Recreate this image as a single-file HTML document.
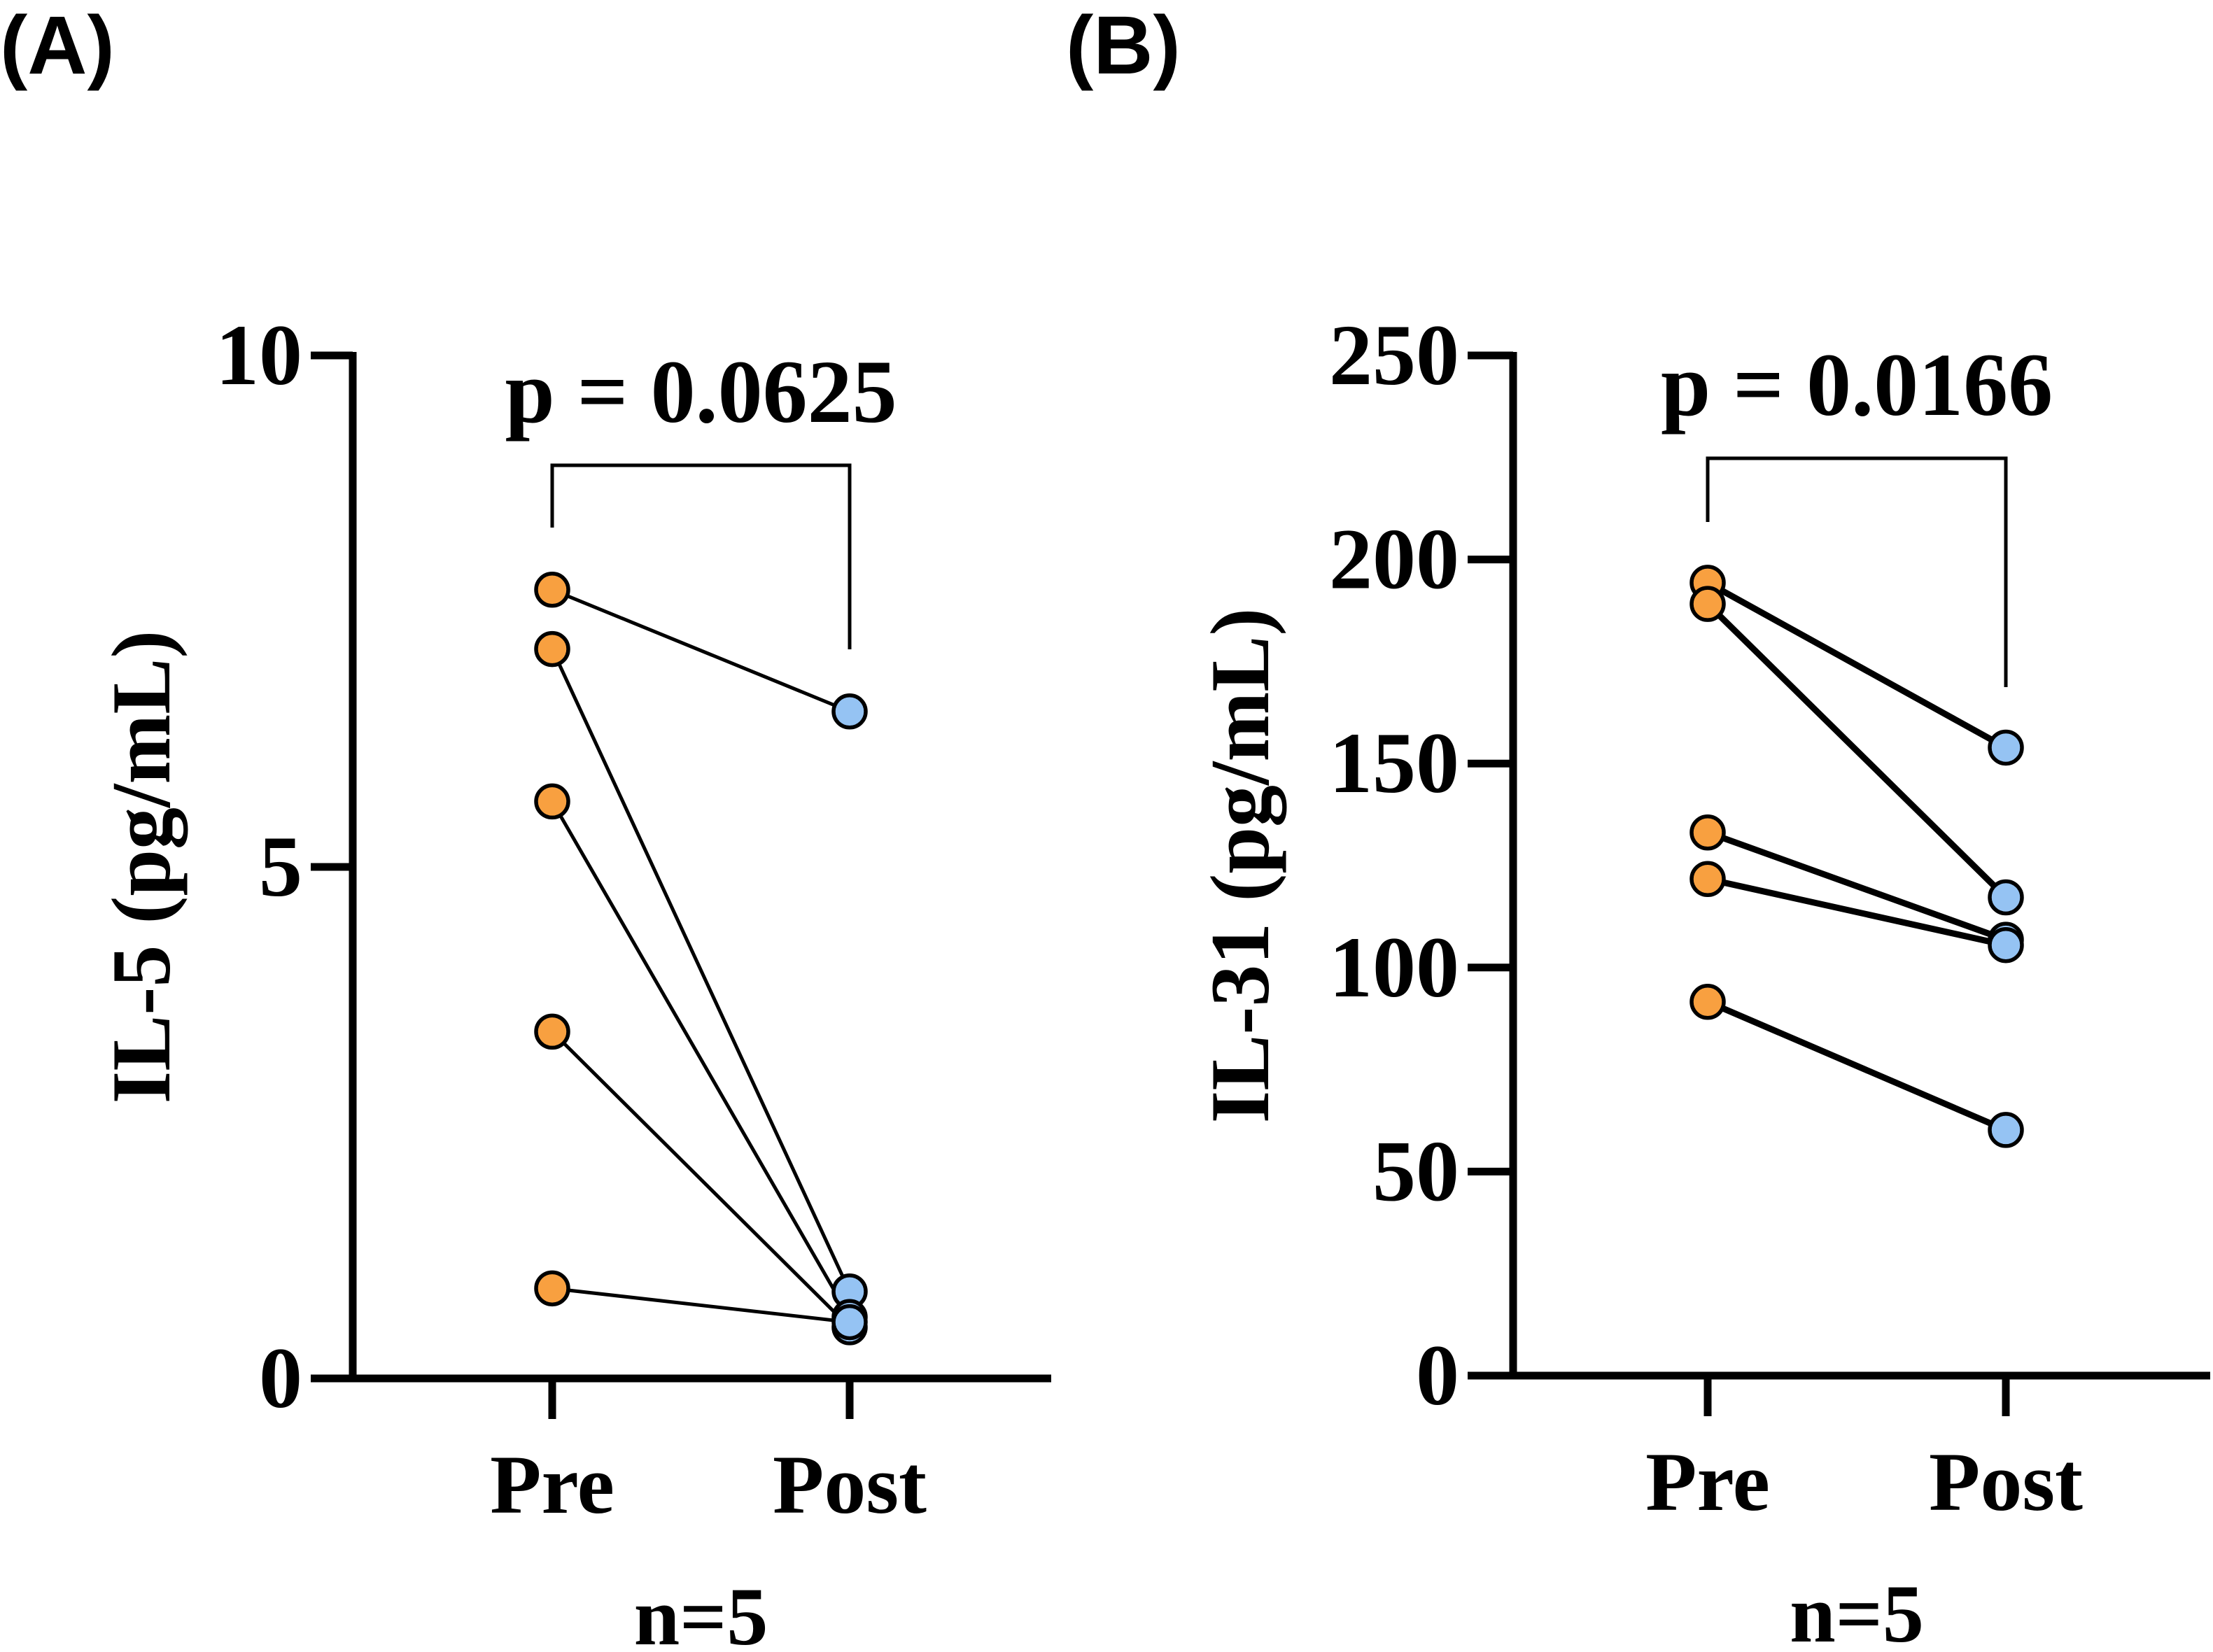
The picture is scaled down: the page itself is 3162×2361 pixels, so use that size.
<!DOCTYPE html>
<html><head><meta charset="utf-8"><style>
html,body{margin:0;padding:0;background:#fff}
svg{display:block}
.t{font-family:"Liberation Serif",serif;font-weight:bold;fill:#000}
</style></head><body>
<svg id="chart" width="3162" height="2361" viewBox="0 0 3162 2361" xmlns="http://www.w3.org/2000/svg">
<text x="0" y="105" font-family="Liberation Sans, sans-serif" font-weight="bold" font-size="118">(A)</text>
<text x="1523" y="105" font-family="Liberation Sans, sans-serif" font-weight="bold" font-size="118">(B)</text>
<g id="pA"></g>
<g id="pB"></g>
</svg>
<script>
const categories = ["Pre", "Post"];
const il5Pre = [7.71, 7.13, 5.64, 3.39, 0.88];
const il5Post = [6.52, 0.85, 0.60, 0.50, 0.55];
const il5Ticks = [0, 5, 10];
const il31Pre = [194.3, 189.1, 133.1, 121.7, 91.6];
const il31Post = [153.9, 117.2, 106.8, 105.5, 60.2];
const il31Ticks = [0, 50, 100, 150, 200, 250];
const pA = "p = 0.0625";
const pB = "p = 0.0166";

const NS = "http://www.w3.org/2000/svg";
function mk(parent, tag, attrs, text){
  const e = document.createElementNS(NS, tag);
  for (const k in attrs) e.setAttribute(k, attrs[k]);
  if (text !== undefined) e.textContent = text;
  parent.appendChild(e);
  return e;
}
function panel(g, cfg){
  const y = v => cfg.y0 - (v - cfg.min) / (cfg.max - cfg.min) * (cfg.y0 - cfg.y1);
  const x = i => cfg.xs[i];
  let e = mk(g, "line", {x1:cfg.ax, y1:cfg.y1-5, x2:cfg.ax, y2:cfg.y0+5, stroke:"#000","stroke-width":11});
  
  
  e = mk(g, "line", {x1:cfg.tickL, y1:cfg.y0, x2:cfg.xEnd, y2:cfg.y0, stroke:"#000","stroke-width":11});
  
  
  cfg.ticks.forEach(t => {
    const l = mk(g, "line", {x1:cfg.tickL, y1:y(t), x2:cfg.ax, y2:y(t), stroke:"#000","stroke-width":11});
    
    
    const tx = mk(g, "text", {x:cfg.tickL-12, y:y(t)+41, "text-anchor":"end", class:"t", "font-size":124}, t);
    
    
  });
  categories.forEach((c, i) => {
    const l = mk(g, "line", {x1:x(i), y1:cfg.y0, x2:x(i), y2:cfg.y0+58, stroke:"#000","stroke-width":11});
    
    
    const tx = mk(g, "text", {x:x(i), y:cfg.y0+192, "text-anchor":"middle", class:"t", "font-size":120}, c);
    
    
  });
  e = mk(g, "text", {x:(x(0)+x(1))/2, y:cfg.y0+380, "text-anchor":"middle", class:"t", "font-size":118}, "n=5");
  
  
  e = mk(g, "text", {x:0, y:0, "text-anchor":"middle", class:"t", "font-size":120, transform:`translate(${cfg.titleX},${(cfg.y0+cfg.y1)/2}) rotate(-90)`}, cfg.title);
  
  
  e = mk(g, "polyline", {points:`${x(0)},${cfg.bL} ${x(0)},${cfg.bT} ${x(1)},${cfg.bT} ${x(1)},${cfg.bR}`, fill:"none", stroke:"#000","stroke-width":5});
  
  
  e = mk(g, "text", {x:(x(0)+x(1))/2, y:cfg.bT-62, "text-anchor":"middle", class:"t", "font-size":128}, cfg.p);
  
  
  cfg.pre.forEach((v, i) => {
    const l = mk(g, "line", {x1:x(0), y1:y(v), x2:x(1), y2:y(cfg.post[i]), stroke:"#000","stroke-width":cfg.lw});
    
    
  });
  cfg.pre.forEach(v => {
    const c = mk(g, "circle", {cx:x(0), cy:y(v), r:23, fill:"#F8A040", stroke:"#000","stroke-width":5.5});
    
    
  });
  cfg.post.forEach(v => {
    const c = mk(g, "circle", {cx:x(1), cy:y(v), r:23, fill:"#95C3F3", stroke:"#000","stroke-width":5.5});
    
    
  });
}
panel(document.getElementById("pA"), {min:0,max:10,y0:1970,y1:508,ax:504,tickL:444,xEnd:1502,xs:[789,1214],
  ticks:il5Ticks,pre:il5Pre,post:il5Post,p:pA,title:"IL-5 (pg/mL)",titleX:242,bT:665,bL:754,bR:928,lw:5});
panel(document.getElementById("pB"), {min:0,max:250,y0:1966,y1:508,ax:2162,tickL:2097,xEnd:3158,xs:[2440,2866],
  ticks:il31Ticks,pre:il31Pre,post:il31Post,p:pB,title:"IL-31 (pg/mL)",titleX:1812,bT:655,bL:746,bR:982,lw:9});
</script>
</body></html>
